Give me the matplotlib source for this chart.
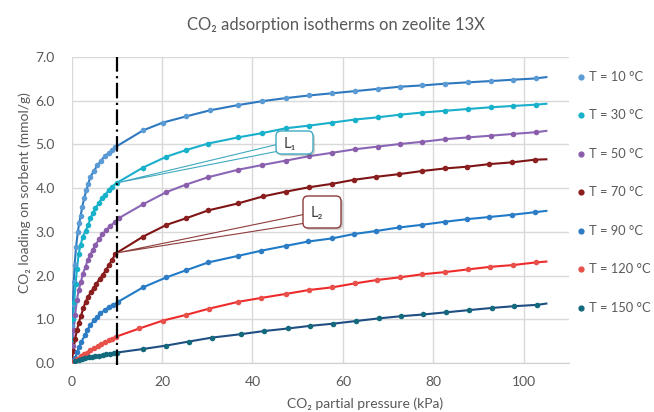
import matplotlib
matplotlib.use("Agg")
import matplotlib.pyplot as plt
import matplotlib.patheffects as pe
import numpy as np
from matplotlib.lines import Line2D
from matplotlib.patches import FancyBboxPatch, Polygon
from matplotlib.transforms import IdentityTransform

plt.rcParams['font.family'] = ['Lato', 'Noto Sans', 'DejaVu Sans']

p10 = [0.15, 0.3, 0.5, 0.7, 1.0, 1.4, 1.7, 2.0, 2.4, 2.8, 3.3, 3.7, 4.2, 5.0, 5.7, 6.5, 7.4, 8.3, 9.0, 9.7,
       15.8, 20.2, 25.3, 30.6, 36.8, 42.2, 47.4, 52.5, 57.6, 62.7, 67.7, 72.6, 77.6, 82.6, 87.6, 92.7, 97.6, 102.7]
q10 = [0.85, 1.35, 1.85, 2.25, 2.65, 3.00, 3.20, 3.36, 3.58, 3.77, 3.96, 4.10, 4.26, 4.40, 4.52, 4.62, 4.74, 4.81, 4.87, 4.94,
       5.32, 5.50, 5.64, 5.78, 5.90, 5.99, 6.06, 6.12, 6.17, 6.22, 6.27, 6.32, 6.35, 6.39, 6.42, 6.45, 6.48, 6.51]

p30 = [0.2, 0.4, 0.6, 0.9, 1.2, 1.6, 2.0, 2.5, 3.1, 3.7, 4.2, 4.7, 5.3, 6.0, 6.7, 7.5, 8.2, 8.9, 10.0,
       15.8, 21.0, 25.3, 30.2, 36.8, 42.2, 47.4, 52.5, 57.7, 62.7, 67.7, 72.6, 77.6, 82.6, 87.6, 92.7, 97.6, 102.7]
q30 = [0.55, 1.00, 1.40, 1.80, 2.15, 2.50, 2.70, 2.89, 3.02, 3.16, 3.31, 3.43, 3.54, 3.65, 3.77, 3.84, 3.96, 4.03, 4.12,
       4.47, 4.72, 4.87, 5.02, 5.16, 5.26, 5.37, 5.43, 5.50, 5.57, 5.62, 5.68, 5.73, 5.77, 5.81, 5.85, 5.88, 5.91]

p50 = [0.25, 0.5, 0.8, 1.2, 1.6, 2.1, 2.5, 3.1, 3.6, 4.1, 4.7, 5.3, 6.1, 6.8, 7.7, 8.5, 9.7, 10.4,
       15.8, 21.0, 25.3, 30.2, 36.8, 42.2, 47.4, 52.5, 57.7, 62.7, 67.7, 72.6, 77.6, 82.6, 87.6, 92.7, 97.6, 102.7]
q50 = [0.40, 0.75, 1.10, 1.44, 1.67, 1.86, 2.04, 2.20, 2.36, 2.47, 2.59, 2.70, 2.83, 2.94, 3.04, 3.14, 3.22, 3.31,
       3.63, 3.91, 4.08, 4.25, 4.42, 4.53, 4.63, 4.73, 4.81, 4.89, 4.95, 5.01, 5.06, 5.12, 5.16, 5.20, 5.24, 5.28]

p70 = [0.4, 0.8, 1.2, 1.6, 2.1, 2.6, 3.1, 3.7, 4.3, 4.9, 5.5, 6.2, 6.9, 7.6, 8.3, 9.0, 9.7,
       15.8, 21.0, 25.3, 30.2, 36.8, 42.3, 47.4, 52.5, 57.7, 62.4, 67.4, 72.4, 77.4, 82.5, 87.4, 92.4, 97.4, 102.4]
q70 = [0.28, 0.55, 0.75, 0.92, 1.08, 1.25, 1.40, 1.52, 1.62, 1.72, 1.81, 1.92, 2.02, 2.12, 2.25, 2.36, 2.50,
       2.89, 3.16, 3.31, 3.49, 3.65, 3.81, 3.92, 4.02, 4.10, 4.19, 4.26, 4.32, 4.39, 4.45, 4.49, 4.55, 4.59, 4.65]

p90 = [0.4, 0.8, 1.3, 1.7, 2.2, 3.0, 3.5, 4.2, 5.0, 5.7, 6.4, 7.4, 8.3, 9.2, 10.3,
       15.8, 21.0, 25.3, 30.2, 36.8, 42.0, 47.4, 52.4, 57.6, 62.4, 67.4, 72.4, 77.4, 82.5, 87.4, 92.4, 97.4, 102.5]
q90 = [0.06, 0.11, 0.26, 0.37, 0.49, 0.64, 0.75, 0.87, 0.98, 1.06, 1.14, 1.21, 1.29, 1.33, 1.40,
       1.73, 1.96, 2.12, 2.30, 2.45, 2.57, 2.68, 2.78, 2.85, 2.95, 3.02, 3.10, 3.16, 3.23, 3.29, 3.34, 3.39, 3.45]

p120 = [0.6, 1.3, 2.0, 2.7, 3.4, 4.2, 5.0, 5.8, 6.6, 7.4, 8.2, 9.0, 9.8,
        15.0, 20.2, 25.3, 30.3, 36.9, 42.0, 47.4, 52.5, 57.6, 62.6, 67.6, 72.6, 77.6, 82.6, 87.6, 92.6, 97.6, 102.6]
q120 = [0.05, 0.10, 0.15, 0.20, 0.24, 0.29, 0.34, 0.39, 0.44, 0.48, 0.52, 0.56, 0.60,
        0.79, 0.97, 1.10, 1.24, 1.40, 1.49, 1.58, 1.67, 1.73, 1.82, 1.90, 1.96, 2.03, 2.08, 2.14, 2.20, 2.24, 2.30]

p150 = [0.8, 1.6, 2.3, 3.0, 3.8, 4.5, 5.3, 6.1, 6.9, 7.7, 8.5, 9.3, 10.1,
        15.8, 21.0, 25.9, 31.0, 37.5, 42.5, 47.9, 52.8, 57.9, 62.9, 67.9, 72.8, 77.8, 82.9, 87.9, 93.0, 97.9, 103.0]
q150 = [0.04, 0.07, 0.09, 0.11, 0.13, 0.14, 0.16, 0.17, 0.19, 0.20, 0.21, 0.23, 0.24,
        0.32, 0.40, 0.49, 0.58, 0.66, 0.73, 0.79, 0.85, 0.90, 0.96, 1.02, 1.07, 1.11, 1.16, 1.21, 1.26, 1.30, 1.33]

# where the fitted curves end (at 105 kPa)
fit_end_p = 105
fit_end_q = [6.54, 5.93, 5.31, 4.66, 3.48, 2.32, 1.36]

labels = ['T = 10 °C', 'T = 30 °C', 'T = 50 °C', 'T = 70 °C', 'T = 90 °C', 'T = 120 °C', 'T = 150 °C']
dot_colors = ['#5B9BD5', '#17B2CA', '#8B5EAC', '#8B1E1E', '#2E7DC4', '#E8504A', '#126A7C']
line_colors = ['#2E78C0', '#1AAFCC', '#8A66B6', '#7E1414', '#1F7AC8', '#EE2B2B', '#1F4E82']

pressures = [p10, p30, p50, p70, p90, p120, p150]
loadings = [q10, q30, q50, q70, q90, q120, q150]

grey = '#595959'

fig = plt.figure(figsize=(6.54, 4.12), dpi=100)
ax = fig.add_axes([71.5 / 654, 49 / 412, 497.5 / 654, 306 / 412])

for p, q, dc, lc, qe in zip(pressures, loadings, dot_colors, line_colors, fit_end_q):
    ax.plot([0] + p + [fit_end_p], [0] + q + [qe], color=lc, lw=1.5, zorder=3)
    ax.plot(p, q, 'o', color=dc, ms=4, mec='none', zorder=4)

ax.axvline(10, ymin=-0.008, color='black', lw=1.6, dashes=(7, 2, 1, 2), zorder=5, clip_on=False)

ax.set_xlim(0, 110)
ax.set_ylim(0, 7)
ax.set_xticks(range(0, 101, 20))
ax.set_yticks(np.arange(0, 7.01, 1))
ax.yaxis.set_major_formatter(matplotlib.ticker.FormatStrFormatter('%.1f'))
ax.grid(color='#D9D9D9', lw=1)
ax.set_axisbelow(True)
for s in ['top', 'right', 'left']:
    ax.spines[s].set_visible(False)
ax.spines['bottom'].set_color('#D0D0D0')
ax.tick_params(length=0, colors=grey, labelsize=10)
ax.tick_params(axis='y', pad=12)
ax.tick_params(axis='x', pad=9)

ax.set_xlabel('CO₂ partial pressure (kPa)', fontsize=10, color=grey, va='center')
ax.xaxis.set_label_coords(0.59, -0.134)
ax.set_ylabel('CO₂ loading on sorbent (mmol/g)', fontsize=10, color=grey, va='center')
ax.yaxis.set_label_coords(-0.095, 0.556)

fig.text(336 / 654, 1 - 25 / 412, 'CO₂ adsorption isotherms on zeolite 13X',
         ha='center', va='center', fontsize=12, color=grey)

# legend, markers only
H = 412
for i, (lab, dc) in enumerate(zip(labels, dot_colors)):
    y = H - (76.7 + i * 38.5)
    fig.add_artist(Line2D([581], [y], marker='o', ms=4.5, color=dc, mec='none', ls='none',
                          transform=IdentityTransform()))
    fig.text(589, y, lab, transform=IdentityTransform(), va='center', ha='left', fontsize=9.3, color=grey)


def callout(label, tip, left, top, w, h, base, color):
    tx, ty = ax.transData.transform(tip)
    wedge = Polygon([(tx, ty), (left + 3, H - base[0]), (left + 3, H - base[1])], closed=True,
                    fc='white', ec=color, lw=0.8, transform=IdentityTransform(), zorder=6)
    fig.add_artist(wedge)
    box = FancyBboxPatch((left, H - top - h), w, h, boxstyle='round,pad=0,rounding_size=5',
                         fc='white', ec=color, lw=1, transform=IdentityTransform(), zorder=7)
    box.set_path_effects([pe.SimplePatchShadow(offset=(1.5, -1.5), alpha=0.25), pe.Normal()])
    fig.add_artist(box)
    fig.text(left + 8, H - top - h / 2 - 1, label, transform=IdentityTransform(), zorder=8,
             va='center', ha='left', fontsize=10.5, color='#404040')


callout('L₁', (10, np.interp(10, p30, q30)), 276, 131, 37, 23, (144, 151), '#3FA9BF')
callout('L₂', (10, np.interp(10, p70, q70)), 303, 196, 38, 32, (214, 223), '#8E3B3B')

fig.savefig('out.png', dpi=100)
